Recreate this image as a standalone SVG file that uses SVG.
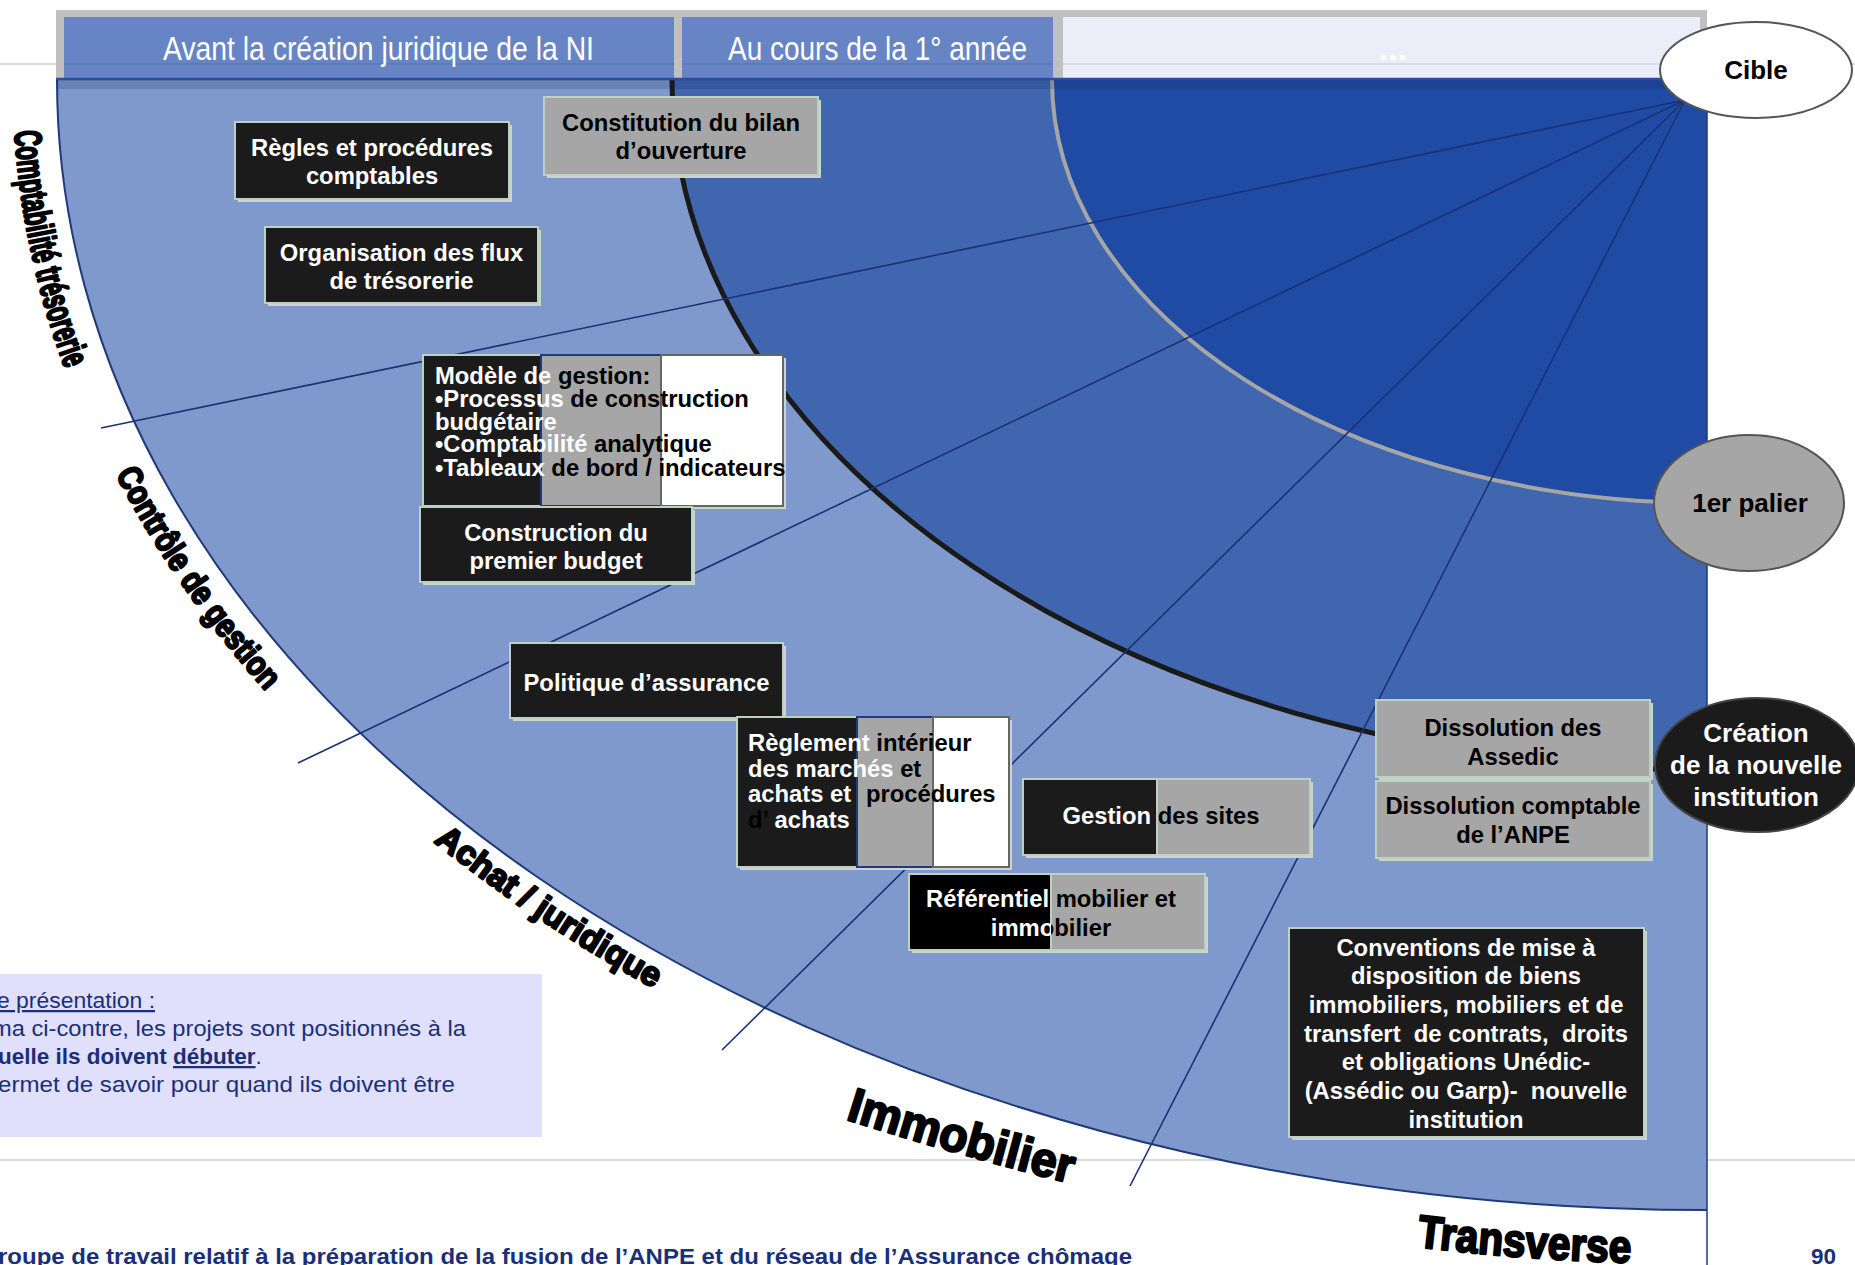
<svg xmlns="http://www.w3.org/2000/svg" width="1855" height="1265" viewBox="0 0 1855 1265">
<defs>
<style>
.bt{font-family:"Liberation Sans",Arial,sans-serif;font-weight:bold;font-size:23.8px}
.w{fill:#fff}.k{fill:#000}
.bb{fill:#1b1b1b;stroke:#bdd0c2;stroke-width:2}
.bg{fill:#a6a6a6;stroke:#bdd0c2;stroke-width:2}
.sh{fill:#c8d5cc}
.lbl{font-family:"Liberation Sans",Arial,sans-serif;font-weight:bold;fill:#000;stroke:#000;stroke-width:2.3;stroke-linejoin:round;text-anchor:middle}
.hd{font-family:"Liberation Sans",Arial,sans-serif;font-size:34px;fill:#fff;text-anchor:middle}
.rl{stroke:#1a3275;stroke-width:1.6;fill:none}
.note{font-family:"Liberation Sans",Arial,sans-serif;font-size:22.5px;fill:#1a2f78}
.el{font-family:"Liberation Sans",Arial,sans-serif;font-weight:bold;font-size:26px;text-anchor:middle}
</style>
<path id="p1" d="M13.3,100.5 A1694,1174 0 0 0 76.2,397.7"/>
<path id="p2" d="M95.2,431.8 A1690,1170 0 0 0 297.7,725.8"/>
<path id="p3" d="M389.1,804.6 A1684,1164 0 0 0 705.3,1015.7"/>
<path id="p4" d="M826,1113 Q956,1155 1090,1188"/>
<path id="p5" d="M1352.7,1238.1 A1704,1184 0 0 0 1695.1,1264"/>
<clipPath id="cRefL"><rect x="900" y="870" width="151" height="85"/></clipPath>
<clipPath id="cRefR"><rect x="1051" y="870" width="160" height="85"/></clipPath>
<clipPath id="cGesL"><rect x="1020" y="775" width="137" height="85"/></clipPath>
<clipPath id="cGesR"><rect x="1157" y="775" width="160" height="85"/></clipPath>
</defs>

<rect x="0" y="0" width="1855" height="1265" fill="#fff"/>

<g id="background">
<line x1="0" y1="64" x2="1855" y2="64" stroke="#d9d9d9" stroke-width="2"/>
<line x1="0" y1="1160" x2="1855" y2="1160" stroke="#d9d9d9" stroke-width="2"/>
<path d="M57,80 L57,78 L1707,78 L1707,1210 A1650,1130 0 0 1 57,80 Z" fill="#7f99cc"/>
<path d="M672,80 L672,78 L1707,78 L1707,770 A1035,690 0 0 1 672,80 Z" fill="#4166b0"/>
<path d="M1052,80 L1052,78 L1707,78 L1707,503 A655,423 0 0 1 1052,80 Z" fill="#204ba4"/>
<path d="M57,80 A1650,1130 0 0 0 1707,1210" fill="none" stroke="#1f3a7a" stroke-width="2"/>
<path d="M672,80 A1035,690 0 0 0 1707,770" fill="none" stroke="#1a1a1a" stroke-width="5"/>
<path d="M1052,80 A655,423 0 0 0 1707,503" fill="none" stroke="#a6a6a6" stroke-width="4"/>
<line x1="1707" y1="78" x2="1707" y2="1265" stroke="#1f3a7a" stroke-width="1.5"/>
</g>

<g id="header">
<rect x="56" y="10" width="1651" height="68" fill="#c0c0c0"/>
<rect x="64" y="17" width="610" height="61" fill="#6784c4"/>
<rect x="682" y="17" width="371" height="61" fill="#6784c4"/>
<rect x="1063" y="17" width="637" height="61" fill="#ebeef8"/>
<line x1="64" y1="64" x2="674" y2="64" stroke="#5a77b8" stroke-width="1.5"/>
<line x1="682" y1="64" x2="1053" y2="64" stroke="#5a77b8" stroke-width="1.5"/>
<line x1="1063" y1="64" x2="1700" y2="64" stroke="#d2d6e1" stroke-width="1.5"/>
<line x1="56" y1="79" x2="1707" y2="79" stroke="#2b4ea2" stroke-width="2.5"/>
<rect x="57" y="80" width="1650" height="9" fill="#0a1a4a" opacity="0.18"/>
<text class="hd" x="378.5" y="60" textLength="431" lengthAdjust="spacingAndGlyphs">Avant la création juridique de la NI</text>
<text class="hd" x="877.5" y="60" textLength="299" lengthAdjust="spacingAndGlyphs">Au cours de la 1° année</text>
<text class="hd" x="1393" y="60" font-size="26" font-weight="bold">...</text>
</g>

<g id="connectors">
<line class="rl" x1="1685" y1="100" x2="101" y2="428"/>
<line class="rl" x1="1685" y1="100" x2="298" y2="763"/>
<line class="rl" x1="1685" y1="100" x2="722" y2="1050"/>
<line class="rl" x1="1685" y1="100" x2="1130" y2="1186"/>
</g>

<g id="axis-labels">
<text class="lbl" font-size="38"><textPath href="#p1" startOffset="50%" textLength="244" lengthAdjust="spacingAndGlyphs">Comptabilité trésorerie</textPath></text>
<text class="lbl" font-size="34"><textPath href="#p2" startOffset="50%" textLength="265" lengthAdjust="spacingAndGlyphs">Contrôle de gestion</textPath></text>
<text class="lbl" font-size="34"><textPath href="#p3" startOffset="50%" textLength="265" lengthAdjust="spacingAndGlyphs">Achat / juridique</textPath></text>
<text class="lbl" font-size="48"><textPath href="#p4" startOffset="50%" textLength="234" lengthAdjust="spacingAndGlyphs">Immobilier</textPath></text>
<text class="lbl" font-size="46"><textPath href="#p5" startOffset="50%" textLength="215" lengthAdjust="spacingAndGlyphs">Transverse</textPath></text>
</g>

<g id="regles">
<rect class="sh" x="238" y="125" width="274" height="77"/>
<rect class="bb" x="235" y="122" width="274" height="77"/>
<text class="bt w" text-anchor="middle"><tspan x="372" y="155.5">Règles et procédures</tspan><tspan x="372" y="183.5">comptables</tspan></text>
</g>

<g id="constitution">
<rect class="sh" x="547" y="100" width="274" height="78"/>
<rect class="bg" x="544" y="97" width="274" height="78"/>
<text class="bt k" text-anchor="middle"><tspan x="681" y="130.5">Constitution du bilan</tspan><tspan x="681" y="158.5">d’ouverture</tspan></text>
</g>

<g id="organisation">
<rect class="sh" x="268" y="230" width="273" height="76"/>
<rect class="bb" x="265" y="227" width="273" height="76"/>
<text class="bt w" text-anchor="middle"><tspan x="401.5" y="260.5">Organisation des flux</tspan><tspan x="401.5" y="288.5">de trésorerie</tspan></text>
</g>

<g id="modele">
<rect class="sh" x="426" y="358" width="360" height="151"/>
<rect x="423" y="355" width="118" height="151" fill="#1b1b1b" stroke="#bdd0c2" stroke-width="2"/>
<rect x="541" y="355" width="120" height="151" fill="#a6a6a6" stroke="#1f3a80" stroke-width="2"/>
<rect x="661" y="355" width="122" height="151" fill="#fff" stroke="#666" stroke-width="2"/>
<text class="bt" x="435" y="384"><tspan class="w">Modèle de</tspan><tspan class="k"> gestion:</tspan></text>
<text class="bt" x="435" y="407"><tspan class="w">•Processus</tspan><tspan class="k"> de construction</tspan></text>
<text class="bt w" x="435" y="429.5">budgétaire</text>
<text class="bt" x="435" y="452"><tspan class="w">•Comptabilité</tspan><tspan class="k"> analytique</tspan></text>
<text class="bt" x="435" y="475.5"><tspan class="w">•Tableaux</tspan><tspan class="k"> de bord / indicateurs</tspan></text>
</g>

<g id="construction">
<rect class="sh" x="423" y="510" width="272" height="75"/>
<rect class="bb" x="420" y="507" width="272" height="75"/>
<text class="bt w" text-anchor="middle"><tspan x="556" y="540.5">Construction du</tspan><tspan x="556" y="568.5">premier budget</tspan></text>
</g>

<g id="politique">
<rect class="sh" x="513" y="646" width="273" height="75"/>
<rect class="bb" x="510" y="643" width="273" height="75"/>
<text class="bt w" x="646.5" y="690.5" text-anchor="middle">Politique d’assurance</text>
</g>

<g id="reglement">
<rect class="sh" x="740" y="720" width="272" height="150"/>
<rect x="737" y="717" width="120" height="150" fill="#1b1b1b" stroke="#bdd0c2" stroke-width="2"/>
<rect x="857" y="717" width="76" height="150" fill="#a6a6a6" stroke="#1f3a80" stroke-width="2"/>
<rect x="933" y="717" width="76" height="150" fill="#fff" stroke="#666" stroke-width="2"/>
<text class="bt" x="748" y="751"><tspan class="w">Règlement</tspan><tspan class="k"> intérieur</tspan></text>
<text class="bt" x="748" y="776.5"><tspan class="w">des marchés</tspan><tspan class="k"> et</tspan></text>
<text class="bt" y="802"><tspan class="w" x="748">achats et</tspan><tspan class="k" x="866">procédures</tspan></text>
<text class="bt" x="748" y="827.5"><tspan class="k">d’</tspan><tspan class="w"> achats</tspan></text>
</g>

<g id="gestion-sites">
<rect class="sh" x="1026" y="782" width="287" height="76"/>
<rect x="1023" y="779" width="134" height="76" fill="#1b1b1b" stroke="#bdd0c2" stroke-width="2"/>
<rect x="1157" y="779" width="153" height="76" fill="#a6a6a6" stroke="#bdd0c2" stroke-width="2"/>
<text class="bt w" x="1161" y="823.5" text-anchor="middle" clip-path="url(#cGesL)">Gestion des sites</text>
<text class="bt k" x="1161" y="823.5" text-anchor="middle" clip-path="url(#cGesR)">Gestion des sites</text>
</g>

<g id="referentiel">
<rect class="sh" x="912" y="877" width="296" height="76"/>
<rect x="909" y="874" width="142" height="76" fill="#000" stroke="#bdd0c2" stroke-width="2"/>
<rect x="1051" y="874" width="154" height="76" fill="#a6a6a6" stroke="#bdd0c2" stroke-width="2"/>
<text class="bt w" text-anchor="middle" clip-path="url(#cRefL)"><tspan x="1051" y="906.5">Référentiel mobilier et</tspan><tspan x="1051" y="935.5">immobilier</tspan></text>
<text class="bt k" text-anchor="middle" clip-path="url(#cRefR)"><tspan x="1051" y="906.5">Référentiel mobilier et</tspan><tspan x="1051" y="935.5">immobilier</tspan></text>
</g>

<g id="dissolution-assedic">
<rect class="sh" x="1379" y="703" width="274" height="77"/>
<rect class="bg" x="1376" y="700" width="274" height="77"/>
<text class="bt k" text-anchor="middle"><tspan x="1513" y="735.5">Dissolution des</tspan><tspan x="1513" y="764.5">Assedic</tspan></text>
</g>

<g id="dissolution-anpe">
<rect class="sh" x="1379" y="784" width="274" height="77"/>
<rect class="bg" x="1376" y="781" width="274" height="77"/>
<text class="bt k" text-anchor="middle"><tspan x="1513" y="813.5">Dissolution comptable</tspan><tspan x="1513" y="842.5">de l’ANPE</tspan></text>
</g>

<g id="conventions">
<rect class="sh" x="1292" y="931" width="355" height="209"/>
<rect class="bb" x="1289" y="928" width="355" height="209"/>
<text class="bt w" text-anchor="middle" xml:space="preserve"><tspan x="1466" y="955.5">Conventions de mise à</tspan><tspan x="1466" y="984.2">disposition de biens</tspan><tspan x="1466" y="1012.9">immobiliers, mobiliers et de</tspan><tspan x="1466" y="1041.6">transfert  de contrats,  droits</tspan><tspan x="1466" y="1070.3">et obligations Unédic-</tspan><tspan x="1466" y="1099">(Assédic ou Garp)-  nouvelle</tspan><tspan x="1466" y="1127.7">institution</tspan></text>
</g>

<g id="cible">
<ellipse cx="1756" cy="70" rx="96" ry="48" fill="#fff" stroke="#555" stroke-width="2"/>
<text class="el" x="1756" y="79" fill="#000">Cible</text>
</g>

<g id="palier">
<ellipse cx="1749" cy="503" rx="95" ry="68" fill="#a6a6a6" stroke="#555" stroke-width="2"/>
<text class="el" x="1750" y="512" fill="#000">1er palier</text>
</g>

<g id="creation">
<ellipse cx="1757" cy="765" rx="102" ry="67" fill="#1b1b1b" stroke="#444" stroke-width="2"/>
<text class="el" fill="#fff"><tspan x="1756" y="742">Création</tspan><tspan x="1756" y="774">de la nouvelle</tspan><tspan x="1756" y="806">institution</tspan></text>
</g>

<g id="note">
<rect x="0" y="974" width="542" height="163" fill="#e0e0fc"/>
<text class="note" x="-3" y="1008" textLength="158" lengthAdjust="spacingAndGlyphs" text-decoration="underline">e présentation :</text>
<text class="note" x="-8" y="1036" textLength="474" lengthAdjust="spacingAndGlyphs">ma ci-contre, les projets sont positionnés à la</text>
<text class="note" x="-2" y="1064"><tspan font-weight="bold">uelle ils doivent </tspan><tspan font-weight="bold" text-decoration="underline">débuter</tspan><tspan>.</tspan></text>
<text class="note" x="-2" y="1092" textLength="457" lengthAdjust="spacingAndGlyphs">ermet de savoir pour quand ils doivent être</text>
</g>

<g id="footer">
<text class="note" x="-2" y="1264" font-weight="bold" textLength="1134" lengthAdjust="spacingAndGlyphs">roupe de travail relatif à la préparation de la fusion de l’ANPE et du réseau de l’Assurance chômage</text>
<text class="note" x="1811" y="1264" font-weight="bold" font-size="20">90</text>
</g>
</svg>
